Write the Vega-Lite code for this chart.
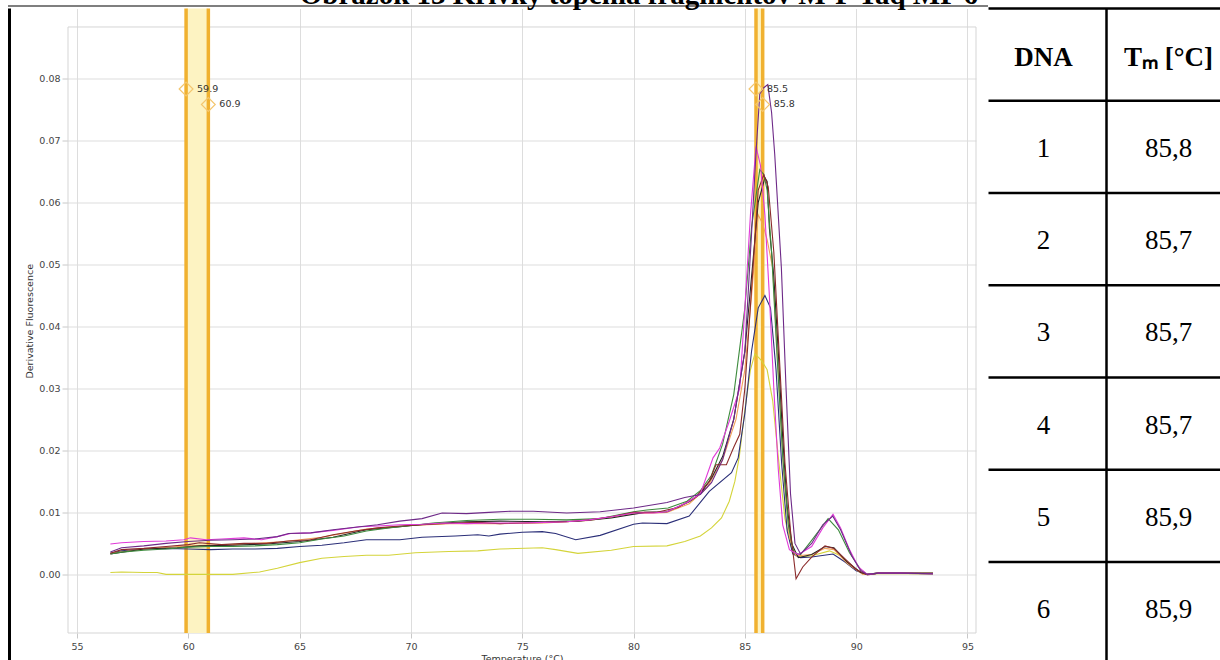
{
"$schema": "https://vega.github.io/schema/vega-lite/v6.json",
"background": "white",
"padding": {"left": 8, "top": -19.5, "right": -4, "bottom": -1.5},
"config": {"view": {"stroke": null}},
"title": {"text": "Obrázok 13 Krivky topenia fragmentov M-P Taq MP 6", "font": "Liberation Serif", "fontSize": 29, "fontWeight": "bold", "color": "#000", "anchor": "middle", "dx": 22, "offset": -27.5, "baseline": "alphabetic"},
"spacing": 0,
"vconcat": [
{"width": 980, "height": 1, "data": {"values": [{}]}, "mark": {"type": "rect", "color": "#000"}, "encoding": {}},
{"spacing": 13, "hconcat": [
{"width": 3, "height": 652.5, "data": {"values": [{}]}, "mark": {"type": "rect", "color": "#000"}, "encoding": {}},
{"spacing": 9.5, "hconcat": [
{"width": 908, "height": 624.5,
"resolve": {"axis": {"x": "independent"}},
"layer": [
{"data": {"values": [{}]},
"mark": {"type": "rect", "fillOpacity": 0, "stroke": "#d5d5d5", "strokeWidth": 1},
"encoding": {"y": {"datum": 0.0883, "type": "quantitative", "scale": {"domain": [-0.00945, 0.09128], "nice": false, "zero": false}, "axis": {"orient": "left", "values": [0, 0.01, 0.02, 0.03, 0.04, 0.05, 0.06, 0.07, 0.08], "format": ".2f", "grid": true, "gridColor": "#dddddd", "domain": false, "tickColor": "#c8c8c8", "tickSize": 6, "labelPadding": 2, "labelFont": "DejaVu Sans", "labelFontSize": 9.5, "labelColor": "#444", "title": "Derivative Fluorescence", "titleFont": "DejaVu Sans", "titleFontSize": 9.5, "titleFontWeight": "normal", "titleColor": "#333", "titlePadding": 4}}, "y2": {"datum": -0.00945}}},
{"data": {"values": [{"lo": 59.9, "hi": 60.9}, {"lo": 85.5, "hi": 85.8}]},
"mark": {"type": "rect", "color": "#fdf3c2"},
"encoding": {"x": {"field": "lo", "type": "quantitative", "scale": {"domain": [54.596, 95.382], "nice": false, "zero": false}, "axis": null}, "x2": {"field": "hi"}}},
{"data": {"values": [{"t": 59.9}, {"t": 60.9}, {"t": 85.5}, {"t": 85.8}]},
"mark": {"type": "rule", "color": "#f0b130", "strokeWidth": 3.5},
"encoding": {"x": {"field": "t", "type": "quantitative", "axis": null}}},
{"data": {"values": [
{"s":"Y","t":56.5,"v":0.0003},{"s":"Y","t":57,"v":0.0004},{"s":"Y","t":58,"v":0.0003},{"s":"Y","t":58.6,"v":0.0003},{"s":"Y","t":59,"v":0.0},{"s":"Y","t":60,"v":0.0},{"s":"Y","t":61,"v":0.0},{"s":"Y","t":62,"v":0.0},{"s":"Y","t":63.2,"v":0.0004},{"s":"Y","t":64,"v":0.001},{"s":"Y","t":65,"v":0.0019},{"s":"Y","t":66,"v":0.0026},{"s":"Y","t":67,"v":0.0029},{"s":"Y","t":68,"v":0.0031},{"s":"Y","t":69,"v":0.0031},{"s":"Y","t":70.2,"v":0.0035},{"s":"Y","t":71.7,"v":0.0037},{"s":"Y","t":73,"v":0.0038},{"s":"Y","t":74,"v":0.0041},{"s":"Y","t":75.9,"v":0.0043},{"s":"Y","t":76.5,"v":0.004},{"s":"Y","t":77.5,"v":0.0034},{"s":"Y","t":79,"v":0.0039},{"s":"Y","t":80,"v":0.0045},{"s":"Y","t":81.5,"v":0.0046},{"s":"Y","t":82.3,"v":0.0053},{"s":"Y","t":83,"v":0.0062},{"s":"Y","t":83.5,"v":0.0075},{"s":"Y","t":83.95,"v":0.0091},{"s":"Y","t":84.3,"v":0.0118},{"s":"Y","t":84.55,"v":0.015},{"s":"Y","t":84.75,"v":0.019},{"s":"Y","t":85.0,"v":0.0265},{"s":"Y","t":85.25,"v":0.033},{"s":"Y","t":85.45,"v":0.0356},{"s":"Y","t":85.75,"v":0.0345},{"s":"Y","t":86.0,"v":0.033},{"s":"Y","t":86.25,"v":0.028},{"s":"Y","t":86.5,"v":0.019},{"s":"Y","t":86.8,"v":0.009},{"s":"Y","t":87.15,"v":0.0035},{"s":"Y","t":87.5,"v":0.0028},{"s":"Y","t":88,"v":0.003},{"s":"Y","t":88.8,"v":0.0038},{"s":"Y","t":89.3,"v":0.003},{"s":"Y","t":89.8,"v":0.0012},{"s":"Y","t":90.4,"v":0.0},{"s":"Y","t":91,"v":0.0001},{"s":"Y","t":92,"v":0.0001},{"s":"Y","t":93.45,"v":0.0001},
{"s":"N","t":56.5,"v":0.0034},{"s":"N","t":57,"v":0.0038},{"s":"N","t":58,"v":0.0041},{"s":"N","t":59,"v":0.0042},{"s":"N","t":60,"v":0.0041},{"s":"N","t":61,"v":0.004},{"s":"N","t":62,"v":0.0041},{"s":"N","t":63,"v":0.0041},{"s":"N","t":64,"v":0.0042},{"s":"N","t":65,"v":0.0045},{"s":"N","t":66,"v":0.0047},{"s":"N","t":67,"v":0.0051},{"s":"N","t":68,"v":0.0056},{"s":"N","t":69.5,"v":0.0056},{"s":"N","t":70.5,"v":0.006},{"s":"N","t":72,"v":0.0062},{"s":"N","t":73,"v":0.0064},{"s":"N","t":73.5,"v":0.0062},{"s":"N","t":74,"v":0.0065},{"s":"N","t":75,"v":0.0068},{"s":"N","t":75.9,"v":0.0069},{"s":"N","t":76.5,"v":0.0066},{"s":"N","t":77.4,"v":0.0056},{"s":"N","t":78.5,"v":0.0063},{"s":"N","t":80,"v":0.0081},{"s":"N","t":80.4,"v":0.0083},{"s":"N","t":81.5,"v":0.0082},{"s":"N","t":82.5,"v":0.0094},{"s":"N","t":83.4,"v":0.0134},{"s":"N","t":84.4,"v":0.0164},{"s":"N","t":84.7,"v":0.0188},{"s":"N","t":85.0,"v":0.026},{"s":"N","t":85.3,"v":0.036},{"s":"N","t":85.6,"v":0.043},{"s":"N","t":85.9,"v":0.045},{"s":"N","t":86.15,"v":0.043},{"s":"N","t":86.4,"v":0.033},{"s":"N","t":86.65,"v":0.018},{"s":"N","t":86.9,"v":0.007},{"s":"N","t":87.15,"v":0.0033},{"s":"N","t":87.5,"v":0.0027},{"s":"N","t":88,"v":0.0028},{"s":"N","t":88.96,"v":0.0033},{"s":"N","t":89.5,"v":0.002},{"s":"N","t":90,"v":0.0006},{"s":"N","t":90.5,"v":0.0},{"s":"N","t":91,"v":0.0002},{"s":"N","t":92,"v":0.0002},{"s":"N","t":93.45,"v":0.0001},
{"s":"O","t":56.5,"v":0.0034},{"s":"O","t":58,"v":0.0041},{"s":"O","t":60,"v":0.0046},{"s":"O","t":62,"v":0.0048},{"s":"O","t":64,"v":0.0052},{"s":"O","t":66,"v":0.006},{"s":"O","t":68,"v":0.0073},{"s":"O","t":70,"v":0.0079},{"s":"O","t":72,"v":0.0082},{"s":"O","t":74,"v":0.0082},{"s":"O","t":76,"v":0.0083},{"s":"O","t":78,"v":0.0087},{"s":"O","t":80,"v":0.0098},{"s":"O","t":81.5,"v":0.01},{"s":"O","t":82.5,"v":0.0114},{"s":"O","t":83.3,"v":0.014},{"s":"O","t":84,"v":0.0185},{"s":"O","t":84.6,"v":0.025},{"s":"O","t":85,"v":0.033},{"s":"O","t":85.3,"v":0.045},{"s":"O","t":85.6,"v":0.058},{"s":"O","t":85.8,"v":0.0565},{"s":"O","t":86.0,"v":0.054},{"s":"O","t":86.25,"v":0.0494},{"s":"O","t":86.5,"v":0.033},{"s":"O","t":86.75,"v":0.016},{"s":"O","t":87.0,"v":0.006},{"s":"O","t":87.3,"v":0.003},{"s":"O","t":88,"v":0.0032},{"s":"O","t":88.6,"v":0.0042},{"s":"O","t":89,"v":0.004},{"s":"O","t":89.6,"v":0.0018},{"s":"O","t":90.3,"v":0.0},{"s":"O","t":91,"v":0.0002},{"s":"O","t":93.45,"v":0.0001},
{"s":"K","t":56.5,"v":0.0033},{"s":"K","t":58,"v":0.0041},{"s":"K","t":59.5,"v":0.0043},{"s":"K","t":60.5,"v":0.0046},{"s":"K","t":62,"v":0.0047},{"s":"K","t":63.5,"v":0.0049},{"s":"K","t":65,"v":0.0053},{"s":"K","t":66.5,"v":0.006},{"s":"K","t":68,"v":0.0072},{"s":"K","t":69.5,"v":0.0077},{"s":"K","t":71,"v":0.0082},{"s":"K","t":72.5,"v":0.0085},{"s":"K","t":74,"v":0.0086},{"s":"K","t":76,"v":0.0085},{"s":"K","t":77.5,"v":0.0086},{"s":"K","t":79,"v":0.0091},{"s":"K","t":80.5,"v":0.01},{"s":"K","t":81.5,"v":0.0101},{"s":"K","t":82.5,"v":0.0117},{"s":"K","t":83,"v":0.013},{"s":"K","t":83.5,"v":0.0155},{"s":"K","t":84,"v":0.019},{"s":"K","t":84.5,"v":0.025},{"s":"K","t":85,"v":0.036},{"s":"K","t":85.3,"v":0.048},{"s":"K","t":85.6,"v":0.06},{"s":"K","t":85.9,"v":0.064},{"s":"K","t":86.0,"v":0.0634},{"s":"K","t":86.1,"v":0.0559},{"s":"K","t":86.3,"v":0.048},{"s":"K","t":86.5,"v":0.036},{"s":"K","t":86.7,"v":0.022},{"s":"K","t":86.9,"v":0.011},{"s":"K","t":87.1,"v":0.005},{"s":"K","t":87.4,"v":0.0027},{"s":"K","t":88,"v":0.0032},{"s":"K","t":88.6,"v":0.0045},{"s":"K","t":89,"v":0.0043},{"s":"K","t":89.6,"v":0.002},{"s":"K","t":90.2,"v":0.0003},{"s":"K","t":90.5,"v":0.0},{"s":"K","t":91,"v":0.0002},{"s":"K","t":93.45,"v":0.0001},
{"s":"G","t":56.5,"v":0.0033},{"s":"G","t":57,"v":0.0036},{"s":"G","t":58,"v":0.0039},{"s":"G","t":59,"v":0.0041},{"s":"G","t":60,"v":0.0044},{"s":"G","t":61,"v":0.0045},{"s":"G","t":62,"v":0.0045},{"s":"G","t":63,"v":0.0046},{"s":"G","t":64,"v":0.0048},{"s":"G","t":65,"v":0.0051},{"s":"G","t":66,"v":0.0057},{"s":"G","t":67,"v":0.0062},{"s":"G","t":68,"v":0.007},{"s":"G","t":69,"v":0.0075},{"s":"G","t":70,"v":0.0079},{"s":"G","t":71,"v":0.0083},{"s":"G","t":72.5,"v":0.0087},{"s":"G","t":74,"v":0.0089},{"s":"G","t":75.5,"v":0.0089},{"s":"G","t":77,"v":0.0088},{"s":"G","t":78.5,"v":0.009},{"s":"G","t":80,"v":0.0101},{"s":"G","t":80.6,"v":0.0104},{"s":"G","t":81.55,"v":0.0107},{"s":"G","t":82.4,"v":0.0118},{"s":"G","t":83,"v":0.0135},{"s":"G","t":83.5,"v":0.016},{"s":"G","t":84,"v":0.021},{"s":"G","t":84.5,"v":0.029},{"s":"G","t":85,"v":0.043},{"s":"G","t":85.3,"v":0.056},{"s":"G","t":85.67,"v":0.0653},{"s":"G","t":85.85,"v":0.0645},{"s":"G","t":86.0,"v":0.062},{"s":"G","t":86.2,"v":0.052},{"s":"G","t":86.45,"v":0.035},{"s":"G","t":86.7,"v":0.019},{"s":"G","t":86.95,"v":0.008},{"s":"G","t":87.2,"v":0.0035},{"s":"G","t":87.5,"v":0.0032},{"s":"G","t":88,"v":0.0055},{"s":"G","t":88.74,"v":0.009},{"s":"G","t":89.2,"v":0.0072},{"s":"G","t":89.7,"v":0.0035},{"s":"G","t":90.2,"v":0.0008},{"s":"G","t":90.5,"v":0.0},{"s":"G","t":91,"v":0.0002},{"s":"G","t":93.45,"v":0.0002},
{"s":"R","t":56.5,"v":0.0034},{"s":"R","t":57,"v":0.004},{"s":"R","t":58,"v":0.0042},{"s":"R","t":59,"v":0.0045},{"s":"R","t":60,"v":0.0048},{"s":"R","t":60.5,"v":0.0051},{"s":"R","t":61.5,"v":0.0048},{"s":"R","t":62.5,"v":0.005},{"s":"R","t":63.5,"v":0.005},{"s":"R","t":64.5,"v":0.0054},{"s":"R","t":65.5,"v":0.0056},{"s":"R","t":66.5,"v":0.0064},{"s":"R","t":67.5,"v":0.007},{"s":"R","t":68.5,"v":0.0075},{"s":"R","t":69.5,"v":0.0078},{"s":"R","t":70.5,"v":0.008},{"s":"R","t":72,"v":0.0083},{"s":"R","t":73,"v":0.0084},{"s":"R","t":74,"v":0.0082},{"s":"R","t":75,"v":0.0083},{"s":"R","t":76,"v":0.0084},{"s":"R","t":77,"v":0.0085},{"s":"R","t":78,"v":0.0088},{"s":"R","t":79,"v":0.0093},{"s":"R","t":80,"v":0.01},{"s":"R","t":81,"v":0.01},{"s":"R","t":82,"v":0.0108},{"s":"R","t":82.8,"v":0.0125},{"s":"R","t":83.4,"v":0.015},{"s":"R","t":83.7,"v":0.0177},{"s":"R","t":84.17,"v":0.0177},{"s":"R","t":84.5,"v":0.0205},{"s":"R","t":84.77,"v":0.0226},{"s":"R","t":85.0,"v":0.03},{"s":"R","t":85.3,"v":0.046},{"s":"R","t":85.6,"v":0.062},{"s":"R","t":85.85,"v":0.0645},{"s":"R","t":86.05,"v":0.0625},{"s":"R","t":86.3,"v":0.052},{"s":"R","t":86.55,"v":0.035},{"s":"R","t":86.8,"v":0.018},{"s":"R","t":87.05,"v":0.007},{"s":"R","t":87.3,"v":-0.0007},{"s":"R","t":87.6,"v":0.0012},{"s":"R","t":88,"v":0.0028},{"s":"R","t":88.6,"v":0.0046},{"s":"R","t":89,"v":0.0042},{"s":"R","t":89.5,"v":0.0025},{"s":"R","t":90,"v":0.0008},{"s":"R","t":90.5,"v":-0.0001},{"s":"R","t":91,"v":0.0002},{"s":"R","t":93.45,"v":0.0002},
{"s":"M","t":56.5,"v":0.0049},{"s":"M","t":57,"v":0.0051},{"s":"M","t":58,"v":0.0053},{"s":"M","t":59,"v":0.0054},{"s":"M","t":59.8,"v":0.0056},{"s":"M","t":60.1,"v":0.0059},{"s":"M","t":60.8,"v":0.0056},{"s":"M","t":61.5,"v":0.0057},{"s":"M","t":62.5,"v":0.0059},{"s":"M","t":63.3,"v":0.0056},{"s":"M","t":64,"v":0.0061},{"s":"M","t":64.6,"v":0.0066},{"s":"M","t":65.5,"v":0.0067},{"s":"M","t":66.5,"v":0.0071},{"s":"M","t":67.7,"v":0.0077},{"s":"M","t":68.5,"v":0.0078},{"s":"M","t":69.5,"v":0.008},{"s":"M","t":70.5,"v":0.0081},{"s":"M","t":71.5,"v":0.0083},{"s":"M","t":72.5,"v":0.0082},{"s":"M","t":73.5,"v":0.0083},{"s":"M","t":75,"v":0.0083},{"s":"M","t":76,"v":0.0084},{"s":"M","t":77,"v":0.0085},{"s":"M","t":78,"v":0.0088},{"s":"M","t":79,"v":0.0093},{"s":"M","t":80,"v":0.0099},{"s":"M","t":80.9,"v":0.0099},{"s":"M","t":81.5,"v":0.0101},{"s":"M","t":82.4,"v":0.0116},{"s":"M","t":83,"v":0.013},{"s":"M","t":83.57,"v":0.0188},{"s":"M","t":83.87,"v":0.0204},{"s":"M","t":84.3,"v":0.0247},{"s":"M","t":84.77,"v":0.03},{"s":"M","t":85.0,"v":0.043},{"s":"M","t":85.25,"v":0.058},{"s":"M","t":85.5,"v":0.069},{"s":"M","t":85.7,"v":0.066},{"s":"M","t":85.9,"v":0.058},{"s":"M","t":86.1,"v":0.045},{"s":"M","t":86.3,"v":0.03},{"s":"M","t":86.5,"v":0.017},{"s":"M","t":86.7,"v":0.008},{"s":"M","t":87.0,"v":0.004},{"s":"M","t":87.4,"v":0.0032},{"s":"M","t":88,"v":0.0045},{"s":"M","t":88.5,"v":0.0075},{"s":"M","t":88.96,"v":0.0097},{"s":"M","t":89.3,"v":0.0075},{"s":"M","t":89.7,"v":0.004},{"s":"M","t":90.1,"v":0.0012},{"s":"M","t":90.5,"v":0.0},{"s":"M","t":91,"v":0.0002},{"s":"M","t":92,"v":0.0002},{"s":"M","t":93.45,"v":0.0001},
{"s":"P","t":56.5,"v":0.0036},{"s":"P","t":57,"v":0.0043},{"s":"P","t":58,"v":0.0046},{"s":"P","t":59,"v":0.005},{"s":"P","t":60,"v":0.0053},{"s":"P","t":61,"v":0.0055},{"s":"P","t":62,"v":0.0056},{"s":"P","t":63,"v":0.0057},{"s":"P","t":64,"v":0.0061},{"s":"P","t":64.5,"v":0.0066},{"s":"P","t":65.5,"v":0.0067},{"s":"P","t":66.5,"v":0.0072},{"s":"P","t":67.5,"v":0.0076},{"s":"P","t":68.5,"v":0.008},{"s":"P","t":69.5,"v":0.0086},{"s":"P","t":70.5,"v":0.009},{"s":"P","t":71.4,"v":0.0099},{"s":"P","t":72.5,"v":0.0098},{"s":"P","t":73.5,"v":0.01},{"s":"P","t":74.5,"v":0.0102},{"s":"P","t":75.5,"v":0.0102},{"s":"P","t":77,"v":0.0099},{"s":"P","t":78.5,"v":0.0101},{"s":"P","t":80,"v":0.0107},{"s":"P","t":81.5,"v":0.0116},{"s":"P","t":82.3,"v":0.0124},{"s":"P","t":83,"v":0.0129},{"s":"P","t":83.5,"v":0.0148},{"s":"P","t":84,"v":0.0185},{"s":"P","t":84.5,"v":0.025},{"s":"P","t":85.0,"v":0.036},{"s":"P","t":85.3,"v":0.055},{"s":"P","t":85.5,"v":0.068},{"s":"P","t":85.67,"v":0.0775},{"s":"P","t":85.85,"v":0.0785},{"s":"P","t":86.03,"v":0.079},{"s":"P","t":86.2,"v":0.0745},{"s":"P","t":86.34,"v":0.0678},{"s":"P","t":86.64,"v":0.0494},{"s":"P","t":86.85,"v":0.03},{"s":"P","t":87.05,"v":0.013},{"s":"P","t":87.25,"v":0.005},{"s":"P","t":87.5,"v":0.0033},{"s":"P","t":88,"v":0.005},{"s":"P","t":88.5,"v":0.008},{"s":"P","t":88.95,"v":0.0094},{"s":"P","t":89.3,"v":0.0072},{"s":"P","t":89.8,"v":0.003},{"s":"P","t":90.2,"v":0.0006},{"s":"P","t":90.5,"v":0.0},{"s":"P","t":91,"v":0.0002},{"s":"P","t":92,"v":0.0002},{"s":"P","t":93.45,"v":0.0001}
]},
"mark": {"type": "line", "strokeWidth": 1.1},
"encoding": {
"x": {"field": "t", "type": "quantitative", "axis": {"orient": "bottom", "values": [55, 60, 65, 70, 75, 80, 85, 90, 95], "grid": true, "gridColor": "#dddddd", "domain": false, "tickColor": "#c8c8c8", "tickSize": 5, "labelPadding": 3, "labelFont": "DejaVu Sans", "labelFontSize": 9.5, "labelColor": "#444", "title": "Temperature (°C)", "titleFont": "DejaVu Sans", "titleFontSize": 9.5, "titleFontWeight": "normal", "titleColor": "#333", "titlePadding": 3}},
"y": {"field": "v", "type": "quantitative", "axis": {"orient": "left", "values": [0, 0.01, 0.02, 0.03, 0.04, 0.05, 0.06, 0.07, 0.08], "format": ".2f", "grid": true, "gridColor": "#dddddd", "domain": false, "tickColor": "#c8c8c8", "tickSize": 6, "labelPadding": 2, "labelFont": "DejaVu Sans", "labelFontSize": 9.5, "labelColor": "#444", "title": "Derivative Fluorescence", "titleFont": "DejaVu Sans", "titleFontSize": 9.5, "titleFontWeight": "normal", "titleColor": "#333", "titlePadding": 4}},
"color": {"field": "s", "type": "nominal", "scale": {"domain": ["Y", "N", "O", "K", "G", "R", "M", "P"], "range": ["#d4d43a", "#2b2f78", "#f2a15a", "#262626", "#3d8b3d", "#8b2b2b", "#e03ad8", "#6e2a88"]}, "legend": null}
}},
{"data": {"values": [{"t": 59.9, "v": 0.0783}, {"t": 60.9, "v": 0.0758}, {"t": 85.5, "v": 0.0783}, {"t": 85.8, "v": 0.0758}]},
"mark": {"type": "point", "shape": "diamond", "filled": false, "size": 190, "color": "#f4c66e", "strokeWidth": 1.2, "opacity": 1},
"encoding": {"x": {"field": "t", "type": "quantitative", "axis": null}, "y": {"field": "v", "type": "quantitative", "axis": {"orient": "left", "values": [0, 0.01, 0.02, 0.03, 0.04, 0.05, 0.06, 0.07, 0.08], "format": ".2f", "grid": true, "gridColor": "#dddddd", "domain": false, "tickColor": "#c8c8c8", "tickSize": 6, "labelPadding": 2, "labelFont": "DejaVu Sans", "labelFontSize": 9.5, "labelColor": "#444", "title": "Derivative Fluorescence", "titleFont": "DejaVu Sans", "titleFontSize": 9.5, "titleFontWeight": "normal", "titleColor": "#333", "titlePadding": 4}}}},
{"data": {"values": [{"t": 59.9, "v": 0.0783, "lab": "59.9"}, {"t": 60.9, "v": 0.0758, "lab": "60.9"}, {"t": 85.5, "v": 0.0783, "lab": "85.5"}, {"t": 85.8, "v": 0.0758, "lab": "85.8"}]},
"mark": {"type": "text", "align": "left", "baseline": "middle", "dx": 11, "font": "DejaVu Sans", "fontSize": 9.5, "color": "#333"},
"encoding": {"x": {"field": "t", "type": "quantitative", "axis": null}, "y": {"field": "v", "type": "quantitative", "axis": {"orient": "left", "values": [0, 0.01, 0.02, 0.03, 0.04, 0.05, 0.06, 0.07, 0.08], "format": ".2f", "grid": true, "gridColor": "#dddddd", "domain": false, "tickColor": "#c8c8c8", "tickSize": 6, "labelPadding": 2, "labelFont": "DejaVu Sans", "labelFontSize": 9.5, "labelColor": "#444", "title": "Derivative Fluorescence", "titleFont": "DejaVu Sans", "titleFontSize": 9.5, "titleFontWeight": "normal", "titleColor": "#333", "titlePadding": 4}}, "text": {"field": "lab"}}}
]},
{"width": 236, "height": 652.5,
"data": {"values": [{"r": 0, "dna": "DNA", "tm": "Tₘ [°C]"}, {"r": 1, "dna": "1", "tm": "85,8"}, {"r": 2, "dna": "2", "tm": "85,7"}, {"r": 3, "dna": "3", "tm": "85,7"}, {"r": 4, "dna": "4", "tm": "85,7"}, {"r": 5, "dna": "5", "tm": "85,9"}, {"r": 6, "dna": "6", "tm": "85,9"}]},
"layer": [
{"mark": {"type": "rule", "color": "#000", "strokeWidth": 2.5},
"encoding": {"y": {"field": "r", "type": "ordinal", "bandPosition": 0, "scale": {"type": "band", "domain": [0, 1, 2, 3, 4, 5, 6], "paddingInner": 0, "paddingOuter": 0.0366, "align": 0}, "axis": null}}},
{"data": {"values": [{"c": "Tm"}]},
"mark": {"type": "rule", "color": "#000", "strokeWidth": 2.5},
"encoding": {"x": {"field": "c", "type": "nominal", "bandPosition": 0, "scale": {"type": "band", "domain": ["DNA", "Tm"], "paddingInner": 0, "paddingOuter": 0}, "axis": null}}},
{"transform": [{"filter": "datum.r == 0"}],
"mark": {"type": "text", "font": "Liberation Serif", "fontSize": 27, "fontWeight": "bold", "dx": -4, "dy": 3, "baseline": "middle", "color": "#000"},
"encoding": {"x": {"datum": "DNA", "type": "nominal", "axis": null}, "y": {"field": "r", "type": "ordinal", "axis": null}, "text": {"field": "dna"}}},
{"transform": [{"filter": "datum.r == 0"}],
"mark": {"type": "text", "font": "Liberation Serif", "fontSize": 27, "fontWeight": "bold", "dx": 3, "dy": 3, "baseline": "middle", "color": "#000"},
"encoding": {"x": {"datum": "Tm", "type": "nominal", "axis": null}, "y": {"field": "r", "type": "ordinal", "axis": null}, "text": {"field": "tm"}}},
{"transform": [{"filter": "datum.r > 0"}],
"mark": {"type": "text", "font": "Liberation Serif", "fontSize": 27, "dx": -4, "dy": 2, "baseline": "middle", "color": "#000"},
"encoding": {"x": {"datum": "DNA", "type": "nominal", "axis": null}, "y": {"field": "r", "type": "ordinal", "axis": null}, "text": {"field": "dna"}}},
{"transform": [{"filter": "datum.r > 0"}],
"mark": {"type": "text", "font": "Liberation Serif", "fontSize": 27, "dx": 3, "dy": 2, "baseline": "middle", "color": "#000"},
"encoding": {"x": {"datum": "Tm", "type": "nominal", "axis": null}, "y": {"field": "r", "type": "ordinal", "axis": null}, "text": {"field": "tm"}}}
]}
]}
]}
]
}
